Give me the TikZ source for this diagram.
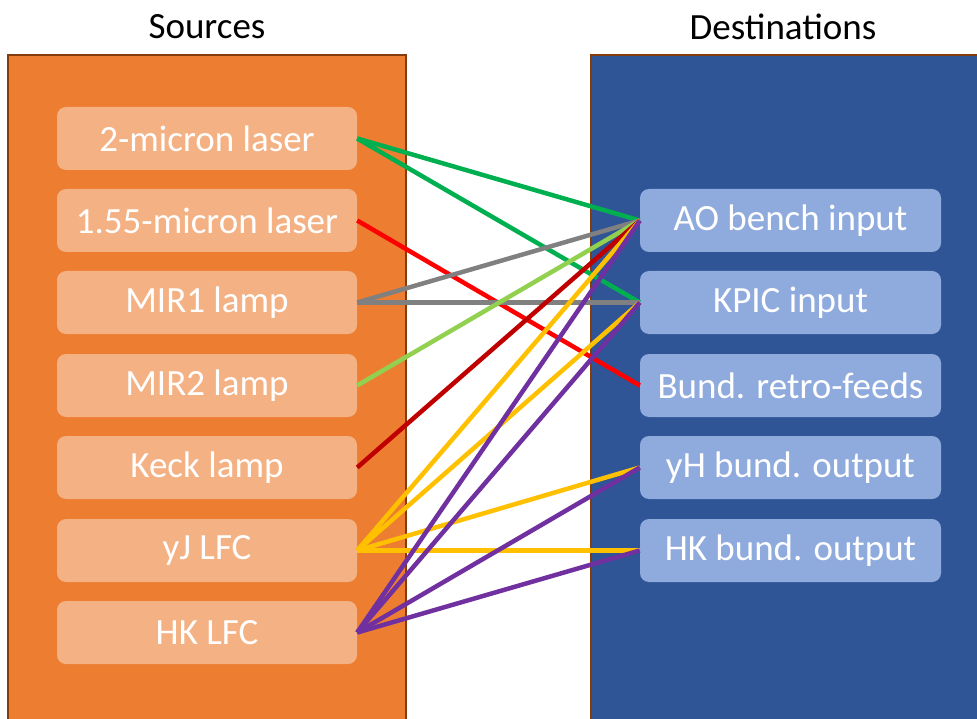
\documentclass[tikz,border=0pt]{standalone}
\usepackage{fontspec}
\setmainfont{Carlito}
\definecolor{panelO}{HTML}{ED7D31}
\definecolor{panelB}{HTML}{2F5597}
\definecolor{boxO}{HTML}{F4B183}
\definecolor{boxB}{HTML}{8FAADC}
\definecolor{edgeC}{HTML}{843C0C}
\definecolor{cGreen}{HTML}{00B050}
\definecolor{cRed}{HTML}{FF0000}
\definecolor{cGray}{HTML}{808080}
\definecolor{cLGreen}{HTML}{92D050}
\definecolor{cDRed}{HTML}{C00000}
\definecolor{cGold}{HTML}{FFC000}
\definecolor{cPurple}{HTML}{7030A0}
\begin{document}
\begin{tikzpicture}[x=1pt,y=-1pt,
  srcbox/.style={fill=boxO,rounded corners=9pt,minimum width=300pt,minimum height=63pt,inner sep=0pt,text=white,font=\fontsize{37}{40}\selectfont},
  dstbox/.style={fill=boxB,rounded corners=9pt,minimum width=301pt,minimum height=63pt,inner sep=0pt,text=white,font=\fontsize{37}{40}\selectfont},
  panel/.style={draw=edgeC,line width=1.5pt},
  title/.style={font=\fontsize{37}{40}\selectfont,text=black},
  ln/.style={line width=4.5pt}]
\useasboundingbox (0,0) rectangle (977,719);
\clip (0,0) rectangle (977,719);
\fill[white] (0,0) rectangle (977,719);
\draw[panel,fill=panelO] (8,55) rectangle (406,730);
\draw[panel,fill=panelB] (591,55) rectangle (990,730);
\node[title] (tS) at (207,27) {Sources};
\node[title] (tD) at (783,27) {Destinations};
\node[srcbox] (s1) at (207,138.5) {2-micron laser};
\node[srcbox] (s2) at (207,220.5) {1.55-micron laser};
\node[srcbox] (s3) at (207,302.5) {MIR1 lamp};
\node[srcbox] (s4) at (207,385.5) {MIR2 lamp};
\node[srcbox] (s5) at (207,467.5) {Keck lamp};
\node[srcbox] (s6) at (207,550.5) {yJ LFC};
\node[srcbox] (s7) at (207,632.5) {HK LFC};
\node[dstbox] (d1) at (790.5,220.5) {AO bench input};
\node[dstbox] (d2) at (790.5,302.5) {KPIC input};
\node[dstbox] (d3) at (790.5,385.5) {Bund. retro-feeds};
\node[dstbox] (d4) at (790.5,467.5) {yH bund. output};
\node[dstbox] (d5) at (790.5,550.5) {HK bund. output};
\draw[ln,cGreen] (s1.east) -- (d1.west);
\draw[ln,cGreen] (s1.east) -- (d2.west);
\draw[ln,cRed] (s2.east) -- (d3.west);
\draw[ln,cGray] (s3.east) -- (d1.west);
\draw[ln,cGray] (s3.east) -- (d2.west);
\draw[ln,cLGreen] (s4.east) -- (d1.west);
\draw[ln,cDRed] (s5.east) -- (d1.west);
\draw[ln,cGold] (s6.east) -- (d1.west);
\draw[ln,cGold] (s6.east) -- (d2.west);
\draw[ln,cGold] (s6.east) -- (d4.west);
\draw[ln,cGold] (s6.east) -- (d5.west);
\draw[ln,cPurple] (s7.east) -- (d1.west);
\draw[ln,cPurple] (s7.east) -- (d2.west);
\draw[ln,cPurple] (s7.east) -- (d4.west);
\draw[ln,cPurple] (s7.east) -- (d5.west);
\end{tikzpicture}
\end{document}
